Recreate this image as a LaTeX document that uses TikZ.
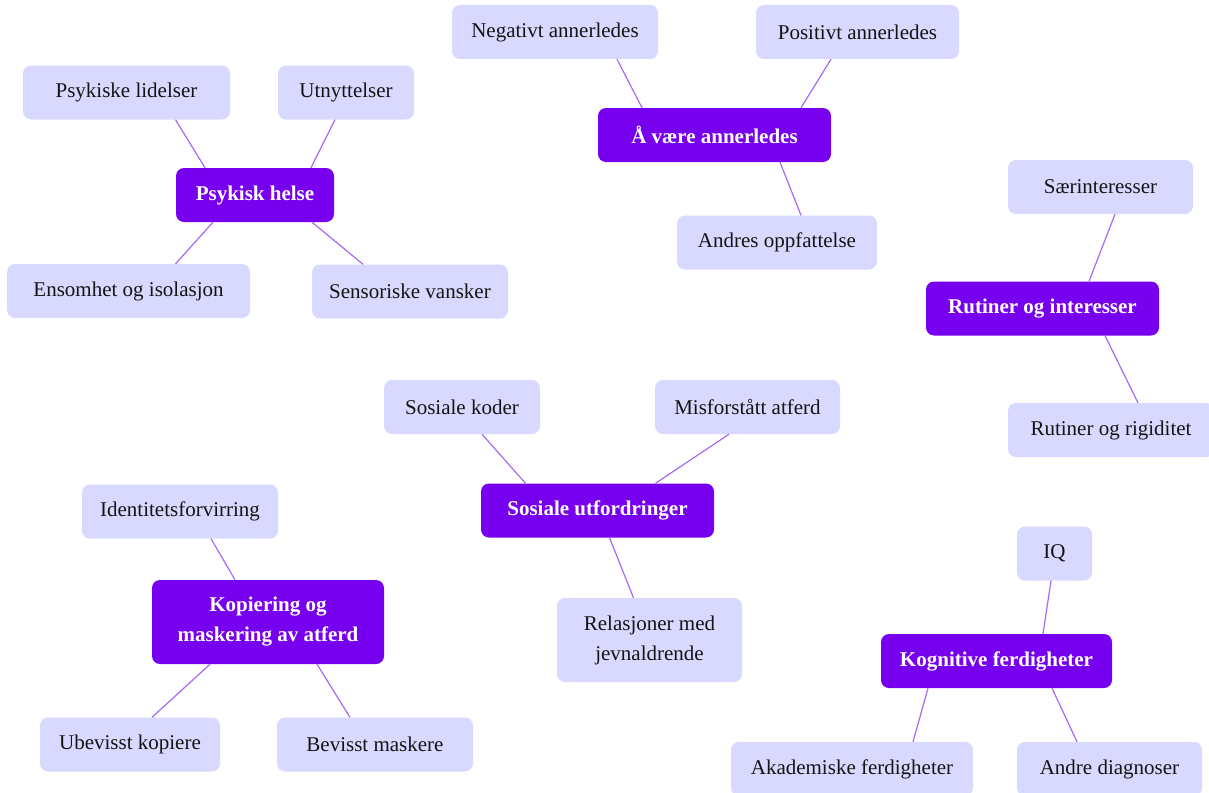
\documentclass[tikz,border=0pt]{standalone}
\usepackage{fontspec}
\setmainfont{Liberation Serif}
\definecolor{mainc}{RGB}{119,0,238}
\definecolor{leafc}{RGB}{217,217,255}
\definecolor{linkc}{RGB}{165,105,242}
\tikzset{
  box/.style={rectangle, rounded corners=8pt, inner sep=0pt, minimum height=54pt, align=center, font=\fontsize{21}{30}\selectfont},
  mainbox/.style={box, fill=mainc, text=white, font=\fontsize{21}{30}\selectfont\bfseries},
  leaf/.style={box, fill=leafc, text=black!92},
  link/.style={draw=linkc, line width=1.2pt}
}
\begin{document}
\begin{tikzpicture}[x=1pt,y=-1pt]
\useasboundingbox (0,0) rectangle (1209,792);
% Psykisk helse
\node[mainbox, minimum width=158pt] (ph) at (255,195) {Psykisk helse};
\node[leaf, minimum width=207pt] (pl) at (126.5,92.5) {Psykiske lidelser};
\node[leaf, minimum width=136pt] (ut) at (346,92.5) {Utnyttelser};
\node[leaf, minimum width=243pt] (ens) at (128.5,291) {Ensomhet og isolasjon};
\node[leaf, minimum width=196pt] (sens) at (410,291.5) {Sensoriske vansker};
\draw[link] ([xshift=-50pt]ph.north) -- ([xshift=49pt]pl.south);
\draw[link] ([xshift=56pt]ph.north) -- ([xshift=-11pt]ut.south);
\draw[link] ([xshift=-42pt]ph.south) -- ([xshift=47pt]ens.north);
\draw[link] ([xshift=57pt]ph.south) -- ([xshift=-47pt]sens.north);
% Å være annerledes
\node[mainbox, minimum width=233pt] (av) at (714.5,135) {Å være annerledes};
\node[leaf, minimum width=206pt] (neg) at (555,32) {Negativt annerledes};
\node[leaf, minimum width=203pt] (pos) at (857.5,32) {Positivt annerledes};
\node[leaf, minimum width=200pt] (andres) at (777,242.5) {Andres oppfattelse};
\draw[link] ([xshift=-72.5pt]av.north) -- ([xshift=62pt]neg.south);
\draw[link] ([xshift=86.5pt]av.north) -- ([xshift=-26.5pt]pos.south);
\draw[link] ([xshift=65.5pt]av.south) -- ([xshift=24pt]andres.north);
% Rutiner og interesser
\node[mainbox, minimum width=233pt] (ri) at (1042.5,308.5) {Rutiner og interesser};
\node[leaf, minimum width=185pt] (sær) at (1100.5,187) {Særinteresser};
\node[leaf, minimum width=206pt] (rig) at (1111,430) {Rutiner og rigiditet};
\draw[link] ([xshift=46.5pt]ri.north) -- ([xshift=14.5pt]sær.south);
\draw[link] ([xshift=62.5pt]ri.south) -- ([xshift=27pt]rig.north);
% Sosiale utfordringer
\node[mainbox, minimum width=233pt] (su) at (597.5,510.5) {Sosiale utfordringer};
\node[leaf, minimum width=156pt] (sk) at (462,407) {Sosiale koder};
\node[leaf, minimum width=185pt] (ma) at (747.5,407) {Misforstått atferd};
\node[leaf, minimum width=185pt, minimum height=84pt] (rel) at (649.5,640) {Relasjoner med\\jevnaldrende};
\draw[link] ([xshift=-72pt]su.north) -- ([xshift=20pt]sk.south);
\draw[link] ([xshift=58pt]su.north) -- ([xshift=-18.5pt]ma.south);
\draw[link] ([xshift=12pt]su.south) -- ([xshift=-16pt]rel.north);
% Kopiering og maskering
\node[mainbox, minimum width=232pt, minimum height=84pt] (ko) at (268,622) {Kopiering og\\maskering av atferd};
\node[leaf, minimum width=196pt] (id) at (180,511.5) {Identitetsforvirring};
\node[leaf, minimum width=180pt] (ub) at (130,744.5) {Ubevisst kopiere};
\node[leaf, minimum width=196pt] (be) at (375,744.5) {Bevisst maskere};
\draw[link] ([xshift=-33pt]ko.north) -- ([xshift=31pt]id.south);
\draw[link] ([xshift=-58pt]ko.south) -- ([xshift=22pt]ub.north);
\draw[link] ([xshift=49pt]ko.south) -- ([xshift=-25pt]be.north);
% Kognitive ferdigheter
\node[mainbox, minimum width=231pt] (kf) at (996.5,661) {Kognitive ferdigheter};
\node[leaf, minimum width=75pt] (iq) at (1054.5,553.5) {IQ};
\node[leaf, minimum width=242pt] (ak) at (852,769) {Akademiske ferdigheter};
\node[leaf, minimum width=185pt] (ad) at (1109.5,769) {Andre diagnoser};
\draw[link] ([xshift=46.5pt]kf.north) -- ([xshift=-3.5pt]iq.south);
\draw[link] ([xshift=-68.5pt]kf.south) -- ([xshift=61pt]ak.north);
\draw[link] ([xshift=55.5pt]kf.south) -- ([xshift=-32.5pt]ad.north);
\end{tikzpicture}
\end{document}
